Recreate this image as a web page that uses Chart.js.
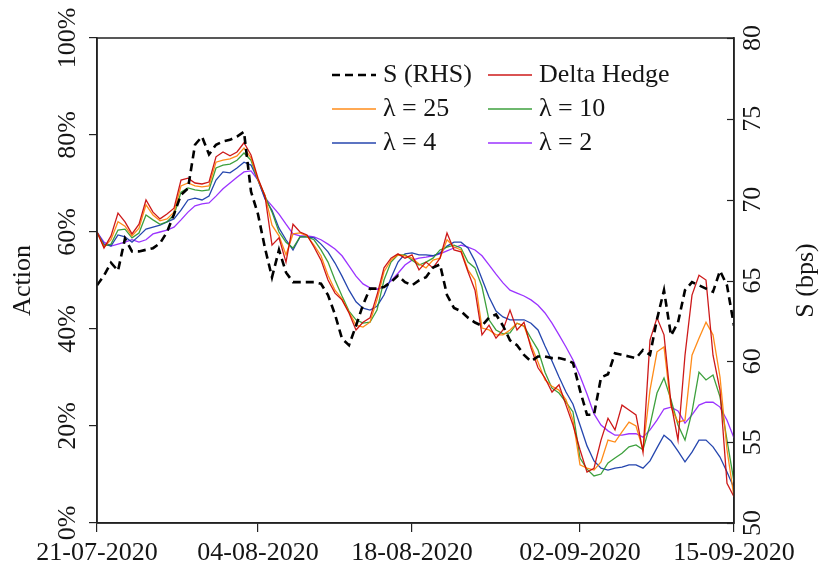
<!DOCTYPE html>
<html lang="en">
<head>
<meta charset="UTF-8">
<title>Action vs S</title>
<script src="https://cdn.jsdelivr.net/npm/chart.js"></script>
<style>
  body { margin: 0; background: #fff; }
  #wrap { width: 822px; height: 568px; position: relative; }
</style>
</head>
<body>
<div id="wrap"><canvas id="chart"></canvas></div>
<script>
const xLabels = ['21-07-2020', '04-08-2020', '18-08-2020', '02-09-2020', '15-09-2020'];
const xTickIdx = [0, 23, 45, 69, 91];

// S spread (bps), right axis
const sSpread = [64.7, 65.3, 66.1, 65.6, 67.6, 66.8, 66.8, 66.9, 67.0, 67.3,
  68.0, 69.1, 70.3, 70.7, 73.4, 73.9, 72.8, 73.4, 73.6, 73.7,
  73.9, 74.2, 70.5, 69.1, 67.0, 65.2, 66.9, 65.5, 64.9, 64.9,
  64.9, 64.9, 64.8, 64.1, 62.9, 61.4, 61.0, 62.2, 63.5, 64.5,
  64.5, 64.6, 64.9, 65.3, 64.9, 64.7, 65.0, 65.2, 65.8, 66.0,
  64.1, 63.3, 63.1, 62.7, 62.4, 62.2, 62.7, 62.9, 62.2, 61.3,
  61.0, 60.4, 60.0, 60.3, 60.3, 60.2, 60.2, 60.1, 59.9, 58.2,
  56.7, 56.7, 59.0, 59.2, 60.5, 60.4, 60.3, 60.2, 60.7, 60.4,
  62.6, 64.4, 61.6, 62.4, 64.4, 64.9, 64.7, 64.5, 64.3, 65.6,
  64.7, 62.2];

// hedge action (%), left axis
const deltaHedge = [60.0, 56.7, 59.2, 63.9, 62.1, 59.6, 61.6, 66.6, 64.1, 62.7,
  63.7, 64.9, 70.7, 71.1, 70.1, 69.9, 70.3, 75.5, 76.5, 75.7,
  76.5, 78.4, 75.9, 71.1, 67.4, 57.3, 58.8, 53.8, 61.6, 60.0,
  59.4, 56.9, 54.2, 50.1, 47.4, 46.0, 43.3, 39.8, 41.4, 42.3,
  47.0, 52.6, 54.6, 55.5, 54.6, 55.3, 52.2, 53.8, 52.6, 54.6,
  59.8, 56.3, 55.9, 51.8, 48.0, 38.8, 40.8, 38.1, 39.8, 43.9,
  39.8, 41.4, 36.1, 32.0, 29.9, 27.0, 28.5, 24.3, 20.2, 15.1,
  10.5, 11.3, 17.1, 21.6, 19.2, 24.3, 23.3, 22.3, 14.6, 37.7,
  42.3, 38.8, 24.7, 17.1, 34.6, 47.0, 51.1, 50.1, 34.6, 27.4,
  8.2, 5.4];

const lam25 = [60.0, 56.9, 58.4, 62.1, 61.2, 59.2, 60.8, 65.6, 63.5, 62.3,
  62.7, 64.1, 69.5, 70.1, 69.5, 69.3, 69.5, 74.4, 74.8, 75.1,
  75.7, 77.3, 75.3, 70.7, 67.6, 61.4, 59.2, 55.3, 59.6, 59.8,
  59.2, 57.3, 55.1, 51.1, 48.0, 46.2, 43.5, 40.8, 40.4, 41.4,
  46.0, 51.8, 54.2, 55.3, 55.1, 54.6, 53.4, 52.6, 54.2, 54.6,
  58.4, 56.9, 56.3, 52.2, 50.1, 40.2, 39.8, 38.8, 38.8, 39.8,
  41.2, 40.6, 36.7, 33.2, 29.5, 28.2, 27.4, 25.4, 21.2, 12.0,
  11.3, 10.9, 12.6, 17.1, 16.7, 18.8, 20.8, 20.0, 15.1, 27.4,
  35.3, 36.3, 23.9, 20.8, 21.2, 34.6, 38.1, 41.4, 38.8, 30.1,
  15.1, 5.4];

const lam10 = [60.0, 57.1, 57.5, 60.4, 60.6, 58.8, 59.8, 63.5, 62.5, 61.6,
  62.1, 63.5, 68.2, 69.1, 68.7, 68.5, 68.7, 73.2, 73.8, 74.0,
  74.8, 76.3, 74.8, 70.7, 67.4, 64.1, 60.0, 57.9, 56.7, 59.0,
  59.0, 58.4, 56.3, 53.8, 50.1, 46.8, 43.7, 41.9, 41.2, 41.4,
  43.9, 50.1, 53.8, 55.3, 55.3, 54.2, 53.2, 53.8, 54.6, 56.3,
  56.9, 57.3, 56.7, 53.8, 52.6, 48.7, 41.9, 39.8, 39.0, 39.2,
  41.2, 40.6, 38.1, 35.7, 31.1, 27.8, 26.8, 24.9, 22.9, 13.4,
  11.1, 9.7, 10.1, 12.4, 13.4, 14.4, 15.7, 16.1, 15.1, 20.2,
  26.8, 29.9, 25.4, 20.2, 17.1, 22.9, 31.1, 29.5, 30.5, 26.0,
  17.1, 8.5];

const lam4 = [60.0, 57.5, 57.1, 59.4, 59.0, 57.9, 59.2, 60.6, 61.0, 61.4,
  62.1, 62.7, 64.5, 66.6, 67.0, 66.6, 67.4, 70.7, 72.4, 72.2,
  73.2, 74.4, 73.8, 70.7, 66.8, 64.5, 60.8, 58.4, 56.3, 59.0,
  59.0, 58.8, 57.5, 55.9, 53.6, 50.9, 48.0, 45.6, 44.3, 43.9,
  44.7, 47.0, 50.5, 53.8, 55.5, 55.7, 55.3, 55.3, 55.1, 55.7,
  57.1, 57.9, 57.9, 56.7, 54.0, 50.3, 46.6, 43.7, 42.5, 41.9,
  41.9, 41.9, 41.2, 39.8, 36.5, 33.4, 30.1, 27.0, 24.5, 20.2,
  15.9, 12.8, 11.3, 10.9, 11.3, 11.5, 12.0, 12.0, 11.3, 12.8,
  15.5, 18.1, 16.9, 14.8, 12.6, 14.6, 17.1, 17.1, 15.7, 13.6,
  10.5, 7.2];

const lam2 = [60.0, 57.9, 57.1, 57.5, 57.9, 58.4, 57.9, 58.4, 59.6, 60.0,
  60.4, 61.0, 62.5, 64.1, 65.4, 65.8, 66.0, 67.4, 68.9, 70.1,
  71.3, 72.4, 72.6, 70.7, 67.0, 65.4, 63.7, 61.6, 59.6, 59.2,
  59.2, 59.0, 58.4, 57.5, 56.5, 55.1, 53.0, 50.9, 49.3, 48.5,
  48.2, 48.7, 49.9, 51.5, 53.2, 54.2, 54.6, 54.8, 55.1, 55.5,
  56.1, 56.7, 57.3, 56.9, 56.3, 55.1, 53.2, 51.3, 49.5, 48.0,
  47.4, 46.8, 46.0, 44.9, 43.3, 41.2, 38.8, 36.3, 33.6, 30.3,
  26.6, 22.5, 20.2, 19.0, 18.1, 18.1, 18.4, 18.4, 17.7, 19.2,
  21.2, 23.5, 23.9, 23.1, 20.6, 22.3, 24.3, 24.9, 24.9, 23.9,
  21.2, 17.5];

const serif = '"Liberation Serif", "DejaVu Serif", serif';
const ink = '#151515';

const pts = arr => arr.map((v, i) => ({ x: i, y: v }));

function series(label, data, color, axis, extra) {
  return Object.assign({
    label: label,
    data: pts(data),
    borderColor: color,
    borderWidth: 1.3,
    pointRadius: 0,
    tension: 0,
    fill: false,
    yAxisID: axis
  }, extra || {});
}

const datasets = [
  series('S (RHS)', sSpread, '#000000', 'y1', { borderWidth: 2.6, borderDash: [8, 5] }),
  series('Delta Hedge', deltaHedge, 'rgba(200,0,0,0.9)', 'y'),
  series('\u03bb = 25', lam25, 'rgba(255,128,0,0.9)', 'y'),
  series('\u03bb = 10', lam10, 'rgba(40,150,40,0.9)', 'y'),
  series('\u03bb = 4', lam4, 'rgba(25,60,170,0.95)', 'y'),
  series('\u03bb = 2', lam2, 'rgba(150,40,255,0.95)', 'y')
];

// box, inward right ticks, rotated tick labels, titles and legend
const decor = {
  id: 'decor',
  afterDraw(chart) {
    const { ctx, chartArea: a, scales } = chart;
    ctx.save();
    ctx.strokeStyle = '#222';
    ctx.lineWidth = 1.5;
    ctx.strokeRect(a.left, a.top, a.right - a.left, a.bottom - a.top);

    ctx.lineWidth = 1.2;
    scales.y1.ticks.forEach(t => {
      const y = Math.round(scales.y1.getPixelForValue(t.value)) + 0.5;
      ctx.beginPath();
      ctx.moveTo(a.right - 7, y);
      ctx.lineTo(a.right, y);
      ctx.stroke();
    });

    ctx.fillStyle = ink;
    ctx.font = '26px ' + serif;
    ctx.textAlign = 'center';
    ctx.textBaseline = 'middle';
    const vtext = (txt, x, y) => {
      ctx.save();
      ctx.translate(x, y);
      ctx.rotate(-Math.PI / 2);
      ctx.fillText(txt, 0, 0);
      ctx.restore();
    };
    scales.y.ticks.forEach(t => vtext(t.label, 68, scales.y.getPixelForValue(t.value)));
    scales.y1.ticks.forEach(t => vtext(t.label, 753, scales.y1.getPixelForValue(t.value)));

    const mid = (a.top + a.bottom) / 2;
    vtext('Action', 23, mid);
    vtext('S (bps)', 806, mid);

    // legend, two columns
    ctx.font = '26px ' + serif;
    ctx.textAlign = 'left';
    const colX = [332, 488];
    chart.data.datasets.forEach((ds, i) => {
      const x = colX[i % 2];
      const y = 75 + Math.floor(i / 2) * 34;
      ctx.save();
      ctx.strokeStyle = ds.borderColor;
      ctx.lineWidth = ds.borderDash ? 2.4 : 1.6;
      ctx.setLineDash(ds.borderDash || []);
      ctx.beginPath();
      ctx.moveTo(x, y);
      ctx.lineTo(x + 44, y);
      ctx.stroke();
      ctx.restore();
      ctx.fillText(ds.label, x + 51, y);
    });
    ctx.restore();
  }
};

new Chart(document.getElementById('chart'), {
  type: 'line',
  data: { datasets: datasets },
  options: {
    responsive: true,
    maintainAspectRatio: false,
    animation: false,
    layout: { padding: { top: 38, left: 0, right: 0, bottom: 0 } },
    plugins: { legend: { display: false }, tooltip: { enabled: false } },
    scales: {
      x: {
        type: 'linear',
        min: 0,
        max: 91,
        afterBuildTicks: s => { s.ticks = xTickIdx.map(v => ({ value: v })); },
        afterFit: s => { s.height = 45; },
        ticks: {
          autoSkip: false,
          maxRotation: 0,
          padding: 6,
          color: ink,
          font: { family: serif, size: 26 },
          callback: (v, i) => xLabels[i]
        },
        grid: { drawOnChartArea: false, drawTicks: true, tickLength: 9, color: '#222', lineWidth: 1.2 },
        border: { display: true, color: '#222', width: 1.5 }
      },
      y: {
        position: 'left',
        min: 0,
        max: 100,
        afterFit: s => { s.width = 97; },
        ticks: { stepSize: 20, display: false, callback: v => v + '%' },
        grid: { drawOnChartArea: false, drawTicks: true, tickLength: 8, color: '#222', lineWidth: 1.2 },
        border: { display: true, color: '#222', width: 1.5 }
      },
      y1: {
        position: 'right',
        min: 50,
        max: 80,
        afterFit: s => { s.width = 88; },
        ticks: { stepSize: 5, display: false },
        grid: { drawOnChartArea: false, drawTicks: false },
        border: { display: true, color: '#222', width: 1.5 }
      }
    }
  },
  plugins: [decor]
});
</script>
</body>
</html>
